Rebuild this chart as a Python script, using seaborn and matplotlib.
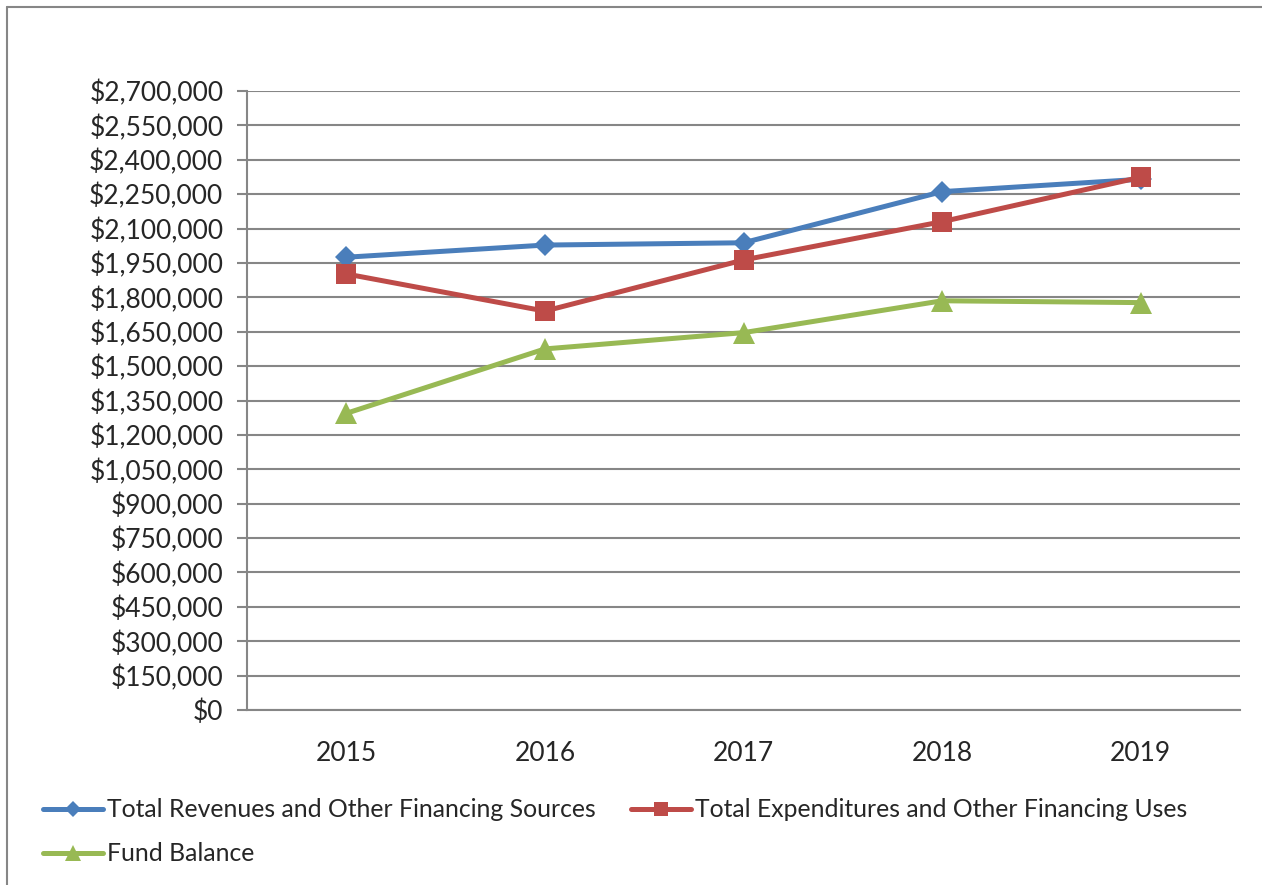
import pandas as pd
import matplotlib.pyplot as plt
import seaborn as sns
from matplotlib.lines import Line2D
from matplotlib.ticker import FuncFormatter, MultipleLocator

# Data
years = ["2015", "2016", "2017", "2018", "2019"]
revenues = [1975000, 2028000, 2038000, 2261000, 2315000]
expenditures = [1902000, 1740000, 1963000, 2130000, 2324000]
fund_balance = [1294000, 1575000, 1646000, 1785000, 1777000]

series_names = [
    "Total Revenues and Other Financing Sources",
    "Total Expenditures and Other Financing Uses",
    "Fund Balance",
]
colors = ["#4A7EBB", "#BE4B48", "#98B954"]
markers = ["D", "s", "^"]
marker_sizes = [11, 15, 16.5]

df = pd.DataFrame({
    "Year": years * 3,
    "Value": revenues + expenditures + fund_balance,
    "Series": [series_names[0]] * 5 + [series_names[1]] * 5 + [series_names[2]] * 5,
})

sns.set_style("white")
plt.rcParams["font.family"] = ["Lato", "DejaVu Sans"]

fig = plt.figure(figsize=(12.62, 8.85), dpi=100)
ax = fig.add_axes([247 / 1262, 1 - 710 / 885, (1240 - 247) / 1262, (710 - 91) / 885])

x_pos = {y: i for i, y in enumerate(years)}
df["x"] = df["Year"].map(x_pos)

for name, color, mk, ms in zip(series_names, colors, markers, marker_sizes):
    sub = df[df["Series"] == name]
    sns.lineplot(data=sub, x="x", y="Value", ax=ax, color=color, linewidth=3.6,
                 marker=mk, markersize=ms, markeredgewidth=0, legend=False)

ax.set_xlim(-0.5, len(years) - 0.5)
ax.set_ylim(0, 2700000)
ax.yaxis.set_major_locator(MultipleLocator(150000))
ax.yaxis.set_major_formatter(FuncFormatter(lambda v, p: f"${v:,.0f}"))
ax.set_xticks(range(len(years)))
ax.set_xticklabels(years)
ax.set_xticks([i - 0.5 for i in range(len(years) + 1)], minor=True)
ax.tick_params(axis="x", which="major", length=0, pad=22, labelsize=19)
ax.tick_params(axis="x", which="minor", length=7, width=1.5, color="#868686", direction="out")
ax.tick_params(axis="y", which="major", length=7, width=1.5, color="#868686", labelsize=19, pad=10, left=True)
ax.grid(axis="y", color="#868686", linewidth=1.5)
ax.set_axisbelow(True)
for s in ["top", "right"]:
    ax.spines[s].set_visible(False)
for s in ["left", "bottom"]:
    ax.spines[s].set_color("#868686")
    ax.spines[s].set_linewidth(1.5)
ax.set_xlabel("")
ax.set_ylabel("")

# Legend (row-major order: Revenues, Expenditures / Fund Balance)
handles = [Line2D([], [], color=c, linewidth=3.6, marker=m, markersize=s * 0.7, markeredgewidth=0)
           for c, m, s in zip(colors, markers, marker_sizes)]
order = [0, 2, 1]
fig.legend([handles[i] for i in order], [series_names[i] for i in order],
           ncol=2, loc="upper left", bbox_to_anchor=(31 / 1262, 1 - 786 / 885),
           frameon=False, fontsize=17.8, handlelength=2.4, handletextpad=0.17,
           columnspacing=1.45, labelspacing=0.85, borderpad=0)

# Chart border (top and left edges visible)
fig.add_artist(Line2D([7 / 1262, 7 / 1262], [0, 1 - 7 / 885], transform=fig.transFigure,
                      color="#868686", linewidth=1.5))
fig.add_artist(Line2D([7 / 1262, 1], [1 - 7 / 885, 1 - 7 / 885], transform=fig.transFigure,
                      color="#868686", linewidth=1.5))

fig.savefig("out.png", dpi=100)
